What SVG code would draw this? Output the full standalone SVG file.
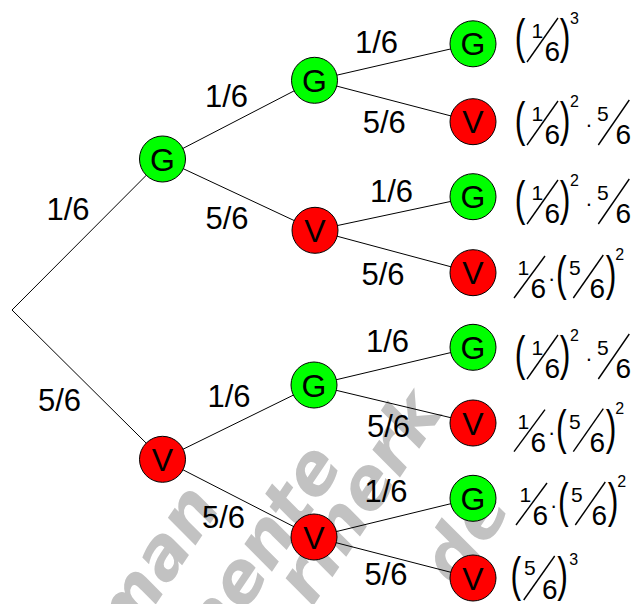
<svg xmlns="http://www.w3.org/2000/svg" width="633" height="604" viewBox="0 0 633 604">
<style>
  text { font-family: "Liberation Sans", Arial, sans-serif; fill: #000; }
  .wm { font-family: "DejaVu Sans", Verdana, sans-serif; font-weight: bold; font-style: oblique; font-size: 70px; fill: #c2c2c2; text-anchor: end; }
  .edge { stroke: #000; stroke-width: 1; fill: none; }
  .g { fill: #00ff00; stroke: #000; stroke-width: 1; }
  .v { fill: #ff0000; stroke: #000; stroke-width: 1; }
  .nl { font-size: 32px; text-anchor: middle; }
  .lbl { font-size: 31px; }
  .num { font-size: 21px; }
  .den { font-size: 28px; }
  .exp { font-size: 16px; }
  .par { font-size: 32px; }
  .dot { font-size: 22px; text-anchor: middle; }
  .sl { stroke: #000; stroke-width: 1.4; }
</style>
<rect width="633" height="604" fill="#fff"/>
<g id="watermark">
  <text class="wm" transform="translate(222,506) rotate(-56)">man</text>
  <text class="wm" transform="translate(344,465) rotate(-56)">mente</text>
  <text class="wm" transform="translate(444,412) rotate(-56)">rmerk</text>
  <text class="wm" transform="translate(512,508) rotate(-56)">de</text>
</g>
<g id="connectors">
  <line class="edge" x1="12" y1="310" x2="162.5" y2="159"/>
  <line class="edge" x1="12" y1="310" x2="162.5" y2="459.3"/>
  <line class="edge" x1="162.5" y1="159" x2="314.5" y2="80.3"/>
  <line class="edge" x1="162.5" y1="159" x2="315" y2="230.3"/>
  <line class="edge" x1="162.5" y1="459.3" x2="314" y2="385"/>
  <line class="edge" x1="162.5" y1="459.3" x2="314" y2="537"/>
  <line class="edge" x1="314.5" y1="80.3" x2="473" y2="43.8"/>
  <line class="edge" x1="314.5" y1="80.3" x2="473" y2="121.7"/>
  <line class="edge" x1="315" y1="230.3" x2="473" y2="196.7"/>
  <line class="edge" x1="315" y1="230.3" x2="473" y2="272.7"/>
  <line class="edge" x1="314" y1="385" x2="473" y2="347.3"/>
  <line class="edge" x1="314" y1="385" x2="473" y2="423"/>
  <line class="edge" x1="314" y1="537" x2="473" y2="498.3"/>
  <line class="edge" x1="314" y1="537" x2="473" y2="578"/>
</g>
<g id="edge-labels">
  <text class="lbl" x="46.5" y="220">1/6</text>
  <text class="lbl" x="38" y="411">5/6</text>
  <text class="lbl" x="205" y="106.7">1/6</text>
  <text class="lbl" x="205.4" y="229.3">5/6</text>
  <text class="lbl" x="355" y="52.7">1/6</text>
  <text class="lbl" x="362.7" y="133.3">5/6</text>
  <text class="lbl" x="370" y="201.7">1/6</text>
  <text class="lbl" x="361.4" y="285">5/6</text>
  <text class="lbl" x="207.4" y="406.7">1/6</text>
  <text class="lbl" x="366" y="351.7">1/6</text>
  <text class="lbl" x="367" y="436.7">5/6</text>
  <text class="lbl" x="202" y="528.3">5/6</text>
  <text class="lbl" x="364.4" y="501.7">1/6</text>
  <text class="lbl" x="364.4" y="585">5/6</text>
</g>
<g id="n1-G"><circle class="g" cx="162.5" cy="159" r="23"/><text class="nl" x="162.5" y="170.5">G</text></g>
<g id="n1-V"><circle class="v" cx="162.5" cy="459.3" r="23"/><text class="nl" x="162.5" y="470.8">V</text></g>
<g id="n2-GG"><circle class="g" cx="314.5" cy="80.3" r="23"/><text class="nl" x="314.5" y="91.8">G</text></g>
<g id="n2-GV"><circle class="v" cx="315" cy="230.3" r="23"/><text class="nl" x="315" y="241.8">V</text></g>
<g id="n2-VG"><circle class="g" cx="314" cy="385" r="23"/><text class="nl" x="314" y="396.5">G</text></g>
<g id="n2-VV"><circle class="v" cx="314" cy="537" r="23"/><text class="nl" x="314" y="548.5">V</text></g>
<g id="n3-GGG"><circle class="g" cx="473" cy="43.8" r="23"/><text class="nl" x="473" y="55.3">G</text></g>
<g id="n3-GGV"><circle class="v" cx="473" cy="121.7" r="23"/><text class="nl" x="473" y="133.2">V</text></g>
<g id="n3-GVG"><circle class="g" cx="473" cy="196.7" r="23"/><text class="nl" x="473" y="208.2">G</text></g>
<g id="n3-GVV"><circle class="v" cx="473" cy="272.7" r="23"/><text class="nl" x="473" y="284.2">V</text></g>
<g id="n3-VGG"><circle class="g" cx="473" cy="347.3" r="23"/><text class="nl" x="473" y="358.8">G</text></g>
<g id="n3-VGV"><circle class="v" cx="473" cy="423" r="23"/><text class="nl" x="473" y="434.5">V</text></g>
<g id="n3-VVG"><circle class="g" cx="473" cy="498.3" r="23"/><text class="nl" x="473" y="509.8">G</text></g>
<g id="n3-VVV"><circle class="v" cx="473" cy="578" r="23"/><text class="nl" x="473" y="589.5">V</text></g>

<defs>
  <g id="fA">
    <text class="par" transform="translate(-2.2,-8) scale(1,1.5)">(</text>
    <text class="num" x="14.5" y="-23">1</text>
    <line class="sl" x1="10" y1="1" x2="41" y2="-43"/>
    <text class="den" x="27.5" y="0">6</text>
    <text class="par" transform="translate(42.7,-8) scale(1,1.5)">)</text>
  </g>
  <g id="f56">
    <text class="dot" x="72" y="-12">·</text>
    <text class="num" x="80" y="-23">5</text>
    <line class="sl" x1="81.3" y1="1" x2="112.3" y2="-44"/>
    <text class="den" x="98.5" y="0">6</text>
  </g>
  <g id="fC">
    <line class="sl" x1="0" y1="0" x2="31" y2="-42"/>
    <text class="num" x="3.6" y="-23">1</text>
    <text class="den" x="16.5" y="0">6</text>
    <text class="dot" x="37.7" y="-12">·</text>
    <text class="par" transform="translate(42.1,-8) scale(1,1.5)">(</text>
    <text class="num" x="55" y="-23">5</text>
    <line class="sl" x1="59.3" y1="0" x2="89.3" y2="-43"/>
    <text class="den" x="75.5" y="0">6</text>
    <text class="par" transform="translate(91.7,-8) scale(1,1.5)">)</text>
    <text class="exp" x="101.3" y="-38">2</text>
  </g>
</defs>

<g id="formula-1" transform="translate(517,61)">
  <use href="#fA"/>
  <text class="exp" x="53" y="-37">3</text>
</g>
<g id="formula-2" transform="translate(517,144)">
  <use href="#fA"/>
  <text class="exp" x="53" y="-37">2</text>
  <use href="#f56"/>
</g>
<g id="formula-3" transform="translate(517,223)">
  <use href="#fA"/>
  <text class="exp" x="53" y="-37">2</text>
  <use href="#f56"/>
</g>
<g id="formula-4" transform="translate(514,298)">
  <use href="#fC"/>
</g>
<g id="formula-5" transform="translate(517,378)">
  <use href="#fA"/>
  <text class="exp" x="53" y="-37">2</text>
  <use href="#f56"/>
</g>
<g id="formula-6" transform="translate(514,451.7)">
  <use href="#fC"/>
</g>
<g id="formula-7" transform="translate(516,525)">
  <use href="#fC"/>
</g>
<g id="formula-8" transform="translate(512.7,599)">
  <text class="par" transform="translate(-2.2,-8) scale(1,1.5)">(</text>
  <text class="num" x="11.3" y="-24">5</text>
  <line class="sl" x1="11" y1="1" x2="42" y2="-43"/>
  <text class="den" x="29.4" y="0">6</text>
  <text class="par" transform="translate(44.6,-8) scale(1,1.5)">)</text>
  <text class="exp" x="56.6" y="-34">3</text>
</g>
</svg>
